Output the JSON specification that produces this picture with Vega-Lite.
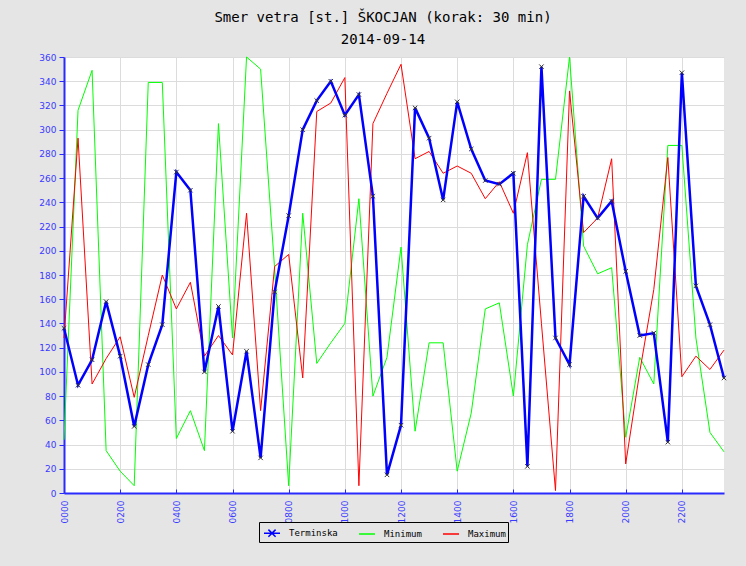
{
  "$schema": "https://vega.github.io/schema/vega-lite/v6.json",
  "width": 660,
  "height": 436,
  "autosize": {"type": "none"},
  "padding": {"left": 64, "top": 57, "right": 22, "bottom": 73},
  "background": "#e5e5e5",
  "title": {
    "text": ["Smer vetra [st.] ŠKOCJAN (korak: 30 min)", "2014-09-14"],
    "font": "DejaVu Sans Mono",
    "fontSize": 14,
    "fontWeight": "normal",
    "color": "#000000",
    "anchor": "middle",
    "frame": "group",
    "dx": -11,
    "offset": 6,
    "lineHeight": 22
  },
  "config": {
    "view": {"fill": "#ffffff", "stroke": null},
    "axis": {
      "gridColor": "#dcdcdc",
      "gridWidth": 1,
      "domainColor": "#2a2aff",
      "domainWidth": 2,
      "tickColor": "#2a2aff",
      "labelColor": "#3a3aff",
      "labelFont": "DejaVu Sans",
      "labelFontSize": 9,
      "title": null
    }
  },
  "data": {
    "values": [
      {"t": 0.0, "s": "Terminska", "v": 136}, {"t": 0.0, "s": "Minimum", "v": 44}, {"t": 0.0, "s": "Maximum", "v": 128},
      {"t": 0.5, "s": "Terminska", "v": 89}, {"t": 0.5, "s": "Minimum", "v": 316}, {"t": 0.5, "s": "Maximum", "v": 293},
      {"t": 1.0, "s": "Terminska", "v": 110}, {"t": 1.0, "s": "Minimum", "v": 349}, {"t": 1.0, "s": "Maximum", "v": 90},
      {"t": 1.5, "s": "Terminska", "v": 158}, {"t": 1.5, "s": "Minimum", "v": 35}, {"t": 1.5, "s": "Maximum", "v": 111},
      {"t": 2.0, "s": "Terminska", "v": 113}, {"t": 2.0, "s": "Minimum", "v": 18}, {"t": 2.0, "s": "Maximum", "v": 129},
      {"t": 2.5, "s": "Terminska", "v": 55}, {"t": 2.5, "s": "Minimum", "v": 6}, {"t": 2.5, "s": "Maximum", "v": 79},
      {"t": 3.0, "s": "Terminska", "v": 106}, {"t": 3.0, "s": "Minimum", "v": 339}, {"t": 3.0, "s": "Maximum", "v": 130},
      {"t": 3.5, "s": "Terminska", "v": 139}, {"t": 3.5, "s": "Minimum", "v": 339}, {"t": 3.5, "s": "Maximum", "v": 180},
      {"t": 4.0, "s": "Terminska", "v": 265}, {"t": 4.0, "s": "Minimum", "v": 45}, {"t": 4.0, "s": "Maximum", "v": 152},
      {"t": 4.5, "s": "Terminska", "v": 250}, {"t": 4.5, "s": "Minimum", "v": 68}, {"t": 4.5, "s": "Maximum", "v": 174},
      {"t": 5.0, "s": "Terminska", "v": 100}, {"t": 5.0, "s": "Minimum", "v": 35}, {"t": 5.0, "s": "Maximum", "v": 113},
      {"t": 5.5, "s": "Terminska", "v": 154}, {"t": 5.5, "s": "Minimum", "v": 305}, {"t": 5.5, "s": "Maximum", "v": 130},
      {"t": 6.0, "s": "Terminska", "v": 51}, {"t": 6.0, "s": "Minimum", "v": 128}, {"t": 6.0, "s": "Maximum", "v": 114},
      {"t": 6.5, "s": "Terminska", "v": 117}, {"t": 6.5, "s": "Minimum", "v": 360}, {"t": 6.5, "s": "Maximum", "v": 231},
      {"t": 7.0, "s": "Terminska", "v": 29}, {"t": 7.0, "s": "Minimum", "v": 350}, {"t": 7.0, "s": "Maximum", "v": 68},
      {"t": 7.5, "s": "Terminska", "v": 166}, {"t": 7.5, "s": "Minimum", "v": 185}, {"t": 7.5, "s": "Maximum", "v": 187},
      {"t": 8.0, "s": "Terminska", "v": 229}, {"t": 8.0, "s": "Minimum", "v": 6}, {"t": 8.0, "s": "Maximum", "v": 197},
      {"t": 8.5, "s": "Terminska", "v": 300}, {"t": 8.5, "s": "Minimum", "v": 231}, {"t": 8.5, "s": "Maximum", "v": 95},
      {"t": 9.0, "s": "Terminska", "v": 324}, {"t": 9.0, "s": "Minimum", "v": 107}, {"t": 9.0, "s": "Maximum", "v": 315},
      {"t": 9.5, "s": "Terminska", "v": 340}, {"t": 9.5, "s": "Minimum", "v": 124}, {"t": 9.5, "s": "Maximum", "v": 322},
      {"t": 10.0, "s": "Terminska", "v": 312}, {"t": 10.0, "s": "Minimum", "v": 140}, {"t": 10.0, "s": "Maximum", "v": 343},
      {"t": 10.5, "s": "Terminska", "v": 329}, {"t": 10.5, "s": "Minimum", "v": 243}, {"t": 10.5, "s": "Maximum", "v": 6},
      {"t": 11.0, "s": "Terminska", "v": 245}, {"t": 11.0, "s": "Minimum", "v": 80}, {"t": 11.0, "s": "Maximum", "v": 305},
      {"t": 11.5, "s": "Terminska", "v": 15}, {"t": 11.5, "s": "Minimum", "v": 112}, {"t": 11.5, "s": "Maximum", "v": 330},
      {"t": 12.0, "s": "Terminska", "v": 56}, {"t": 12.0, "s": "Minimum", "v": 203}, {"t": 12.0, "s": "Maximum", "v": 354},
      {"t": 12.5, "s": "Terminska", "v": 318}, {"t": 12.5, "s": "Minimum", "v": 51}, {"t": 12.5, "s": "Maximum", "v": 276},
      {"t": 13.0, "s": "Terminska", "v": 293}, {"t": 13.0, "s": "Minimum", "v": 124}, {"t": 13.0, "s": "Maximum", "v": 282},
      {"t": 13.5, "s": "Terminska", "v": 242}, {"t": 13.5, "s": "Minimum", "v": 124}, {"t": 13.5, "s": "Maximum", "v": 264},
      {"t": 14.0, "s": "Terminska", "v": 323}, {"t": 14.0, "s": "Minimum", "v": 18}, {"t": 14.0, "s": "Maximum", "v": 270},
      {"t": 14.5, "s": "Terminska", "v": 284}, {"t": 14.5, "s": "Minimum", "v": 66}, {"t": 14.5, "s": "Maximum", "v": 264},
      {"t": 15.0, "s": "Terminska", "v": 258}, {"t": 15.0, "s": "Minimum", "v": 152}, {"t": 15.0, "s": "Maximum", "v": 243},
      {"t": 15.5, "s": "Terminska", "v": 255}, {"t": 15.5, "s": "Minimum", "v": 157}, {"t": 15.5, "s": "Maximum", "v": 257},
      {"t": 16.0, "s": "Terminska", "v": 264}, {"t": 16.0, "s": "Minimum", "v": 80}, {"t": 16.0, "s": "Maximum", "v": 231},
      {"t": 16.5, "s": "Terminska", "v": 22}, {"t": 16.5, "s": "Minimum", "v": 205}, {"t": 16.5, "s": "Maximum", "v": 281},
      {"t": 17.0, "s": "Terminska", "v": 352}, {"t": 17.0, "s": "Minimum", "v": 259}, {"t": 17.0, "s": "Maximum", "v": 140},
      {"t": 17.5, "s": "Terminska", "v": 128}, {"t": 17.5, "s": "Minimum", "v": 259}, {"t": 17.5, "s": "Maximum", "v": 2},
      {"t": 18.0, "s": "Terminska", "v": 106}, {"t": 18.0, "s": "Minimum", "v": 360}, {"t": 18.0, "s": "Maximum", "v": 332},
      {"t": 18.5, "s": "Terminska", "v": 245}, {"t": 18.5, "s": "Minimum", "v": 204}, {"t": 18.5, "s": "Maximum", "v": 215},
      {"t": 19.0, "s": "Terminska", "v": 227}, {"t": 19.0, "s": "Minimum", "v": 181}, {"t": 19.0, "s": "Maximum", "v": 227},
      {"t": 19.5, "s": "Terminska", "v": 241}, {"t": 19.5, "s": "Minimum", "v": 186}, {"t": 19.5, "s": "Maximum", "v": 276},
      {"t": 20.0, "s": "Terminska", "v": 183}, {"t": 20.0, "s": "Minimum", "v": 46}, {"t": 20.0, "s": "Maximum", "v": 24},
      {"t": 20.5, "s": "Terminska", "v": 130}, {"t": 20.5, "s": "Minimum", "v": 112}, {"t": 20.5, "s": "Maximum", "v": 100},
      {"t": 21.0, "s": "Terminska", "v": 132}, {"t": 21.0, "s": "Minimum", "v": 90}, {"t": 21.0, "s": "Maximum", "v": 168},
      {"t": 21.5, "s": "Terminska", "v": 42}, {"t": 21.5, "s": "Minimum", "v": 287}, {"t": 21.5, "s": "Maximum", "v": 277},
      {"t": 22.0, "s": "Terminska", "v": 347}, {"t": 22.0, "s": "Minimum", "v": 287}, {"t": 22.0, "s": "Maximum", "v": 96},
      {"t": 22.5, "s": "Terminska", "v": 171}, {"t": 22.5, "s": "Minimum", "v": 128}, {"t": 22.5, "s": "Maximum", "v": 113},
      {"t": 23.0, "s": "Terminska", "v": 139}, {"t": 23.0, "s": "Minimum", "v": 50}, {"t": 23.0, "s": "Maximum", "v": 102},
      {"t": 23.5, "s": "Terminska", "v": 95}, {"t": 23.5, "s": "Minimum", "v": 34}, {"t": 23.5, "s": "Maximum", "v": 118}
    ]
  },
  "encoding": {
    "x": {
      "field": "t",
      "type": "quantitative",
      "scale": {"domain": [0, 23.5], "nice": false, "zero": false},
      "axis": {
        "values": [0, 2, 4, 6, 8, 10, 12, 14, 16, 18, 20, 22],
        "labelExpr": "format(datum.value * 100, '04d')",
        "labelAngle": 270,
        "grid": true,
        "tickSize": -4,
        "labelPadding": 11
      }
    },
    "y": {
      "field": "v",
      "type": "quantitative",
      "scale": {"domain": [0, 360], "nice": false},
      "axis": {
        "values": [0, 20, 40, 60, 80, 100, 120, 140, 160, 180, 200, 220, 240, 260, 280, 300, 320, 340, 360],
        "grid": true,
        "tickSize": 5,
        "labelPadding": 3
      }
    }
  },
  "layer": [
    {
      "transform": [{"filter": "datum.s === 'Minimum'"}],
      "mark": {"type": "line", "strokeWidth": 1},
      "encoding": {
        "color": {
          "field": "s",
          "type": "nominal",
          "scale": {"domain": ["Terminska", "Minimum", "Maximum"], "range": ["#0000ff", "#00ff00", "#ff0000"]},
          "legend": {
            "title": null,
            "orient": "none",
            "legendX": 195,
            "legendY": 465,
            "direction": "horizontal",
            "symbolType": "stroke",
            "symbolSize": 256,
            "symbolStrokeWidth": 1.5,
            "symbolOffset": 2,
            "labelFont": "DejaVu Sans Mono",
            "labelFontSize": 9,
            "labelColor": "#000000",
            "labelOffset": 8,
            "columnPadding": 18,
            "padding": 2,
            "strokeColor": "#000000",
            "fillColor": "#e5e5e5",
            "encode": {
              "symbols": {
                "update": {
                  "shape": {"signal": "datum.value === 'Terminska' ? 'M-1,0L1,0M-0.45,-0.45L0.45,0.45M-0.45,0.45L0.45,-0.45' : 'M-1,0L1,0'"}
                }
              }
            }
          }
        }
      }
    },
    {
      "transform": [{"filter": "datum.s === 'Maximum'"}],
      "mark": {"type": "line", "strokeWidth": 1},
      "encoding": {"color": {"field": "s", "type": "nominal"}}
    },
    {
      "transform": [{"filter": "datum.s === 'Terminska'"}],
      "mark": {"type": "line", "strokeWidth": 2.5},
      "encoding": {"color": {"field": "s", "type": "nominal"}}
    },
    {
      "transform": [{"filter": "datum.s === 'Terminska'"}],
      "mark": {"type": "point", "shape": "M-1,-1L1,1M-1,1L1,-1", "size": 20, "filled": false, "stroke": "#333333", "strokeWidth": 1, "opacity": 1}
    }
  ]
}
